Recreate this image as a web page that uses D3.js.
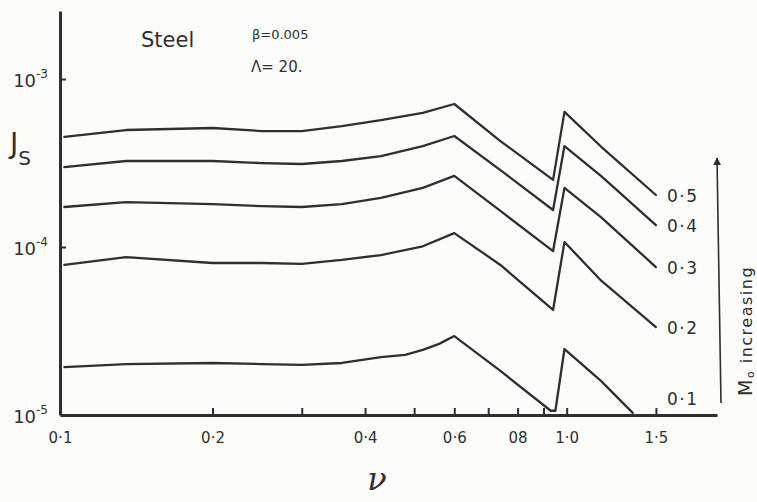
<!DOCTYPE html>
<html><head><meta charset="utf-8">
<script src="https://cdn.jsdelivr.net/npm/d3@7"></script>
<style>
html,body{margin:0;padding:0;background:#fcfcfa;}
svg{display:block;}
text{font-family:"DejaVu Sans",sans-serif;fill:#2f2f2f;}
</style></head><body>
<svg id="chart" width="757" height="502"></svg>
<script>
// ---- data ----
const nuGrid = [0.102,0.135,0.2,0.25,0.3,0.36,0.43,0.52,0.6,0.74,0.94,0.99,1.17,1.5];
const js05 = [4.52e-4,4.97e-4,5.11e-4,4.90e-4,4.90e-4,5.25e-4,5.70e-4,6.28e-4,7.10e-4,4.27e-4,2.51e-4,6.37e-4,3.95e-4,2.04e-4];
const js04 = [2.99e-4,3.25e-4,3.25e-4,3.16e-4,3.12e-4,3.25e-4,3.48e-4,3.99e-4,4.58e-4,2.87e-4,1.66e-4,3.99e-4,2.64e-4,1.35e-4];
const js03 = [1.73e-4,1.85e-4,1.80e-4,1.75e-4,1.73e-4,1.80e-4,1.96e-4,2.25e-4,2.65e-4,1.64e-4,9.46e-5,2.25e-4,1.50e-4,7.60e-5];
const js02 = [7.82e-5,8.71e-5,8.03e-5,8.03e-5,7.93e-5,8.38e-5,8.96e-5,1.01e-4,1.21e-4,7.82e-5,4.22e-5,1.07e-4,6.30e-5,3.34e-5];
const nuGrid01 = [0.102,0.135,0.2,0.25,0.3,0.36,0.43,0.48,0.52,0.56,0.6,0.74,0.93,0.95,0.99,1.17,1.35];
const js01 = [1.93e-5,2.01e-5,2.04e-5,2.01e-5,1.99e-5,2.04e-5,2.21e-5,2.28e-5,2.44e-5,2.65e-5,2.95e-5,1.83e-5,1.06e-5,1.06e-5,2.47e-5,1.59e-5,1.03e-5];
const machLabels = ["0·5","0·4","0·3","0·2","0·1"];
const xTickValues = [0.1,0.2,0.3,0.4,0.5,0.6,0.7,0.8,0.9,1.0,1.5];
const xTickLabels = ["0·1","0·2","","0·4","","0·6","","08","","1·0","1·5"];
const yTickValues = [1e-3,1e-4,1e-5];
const yTickExponents = ["-3","-4","-5"];

const ink = "#2f2f2f";
const font = '"DejaVu Sans",sans-serif';
const svg = d3.select("#chart");

const x = d3.scaleLog().domain([0.1, 1.98]).range([60, 717]);
const y = d3.scaleLog().domain([1e-5, 2.54e-3]).range([415, 11]);

const series = [
  {nu: nuGrid, js: js05},
  {nu: nuGrid, js: js04},
  {nu: nuGrid, js: js03},
  {nu: nuGrid, js: js02},
  {nu: nuGrid01, js: js01}
];

// ---- axes ----
const xAxis = d3.axisBottom(x).tickValues(xTickValues)
  .tickSizeInner(-7).tickSizeOuter(0).tickPadding(17)
  .tickFormat((d,i) => xTickLabels[i]);
const gx = svg.append("g").attr("transform", `translate(0,${y.range()[0]})`).call(xAxis)
  .attr("font-size", null).attr("font-family", null);
gx.select(".domain").attr("stroke", ink).attr("stroke-width", 3);
gx.selectAll(".tick line").attr("stroke", ink).attr("stroke-width", 2);
gx.selectAll(".tick").filter(d => d === 0.1).select("line").remove();
gx.selectAll(".tick text").style("font-size", "15px").style("font-family", font).attr("fill", ink);

const yAxis = d3.axisLeft(y).tickValues(yTickValues)
  .tickSizeInner(-6).tickSizeOuter(0).tickPadding(14)
  .tickFormat(() => "");
const gy = svg.append("g").attr("transform", `translate(${x.range()[0]},0)`).call(yAxis)
  .attr("font-size", null).attr("font-family", null);
gy.select(".domain").attr("stroke", ink).attr("stroke-width", 3);
gy.selectAll(".tick line").attr("stroke", ink).attr("stroke-width", 2);
gy.selectAll(".tick").filter(d => d === 1e-5).select("line").remove();
gy.selectAll(".tick text").each(function(d, i) {
  const t = d3.select(this).style("font-size", "18px").style("font-family", font)
    .attr("fill", ink).attr("dy", "0.42em").attr("x", -12);
  t.text(null);
  t.append("tspan").text("10");
  t.append("tspan").style("font-size", "12px").attr("dy", "-0.75em").text(yTickExponents[i]);
});

// ---- curves ----
const line = d3.line().x(d => x(d[0])).y(d => y(d[1])).curve(d3.curveLinear);
svg.append("g").selectAll("path").data(series).join("path")
  .attr("d", s => line(s.nu.map((n, i) => [n, s.js[i]])))
  .attr("fill", "none").attr("stroke", ink).attr("stroke-width", 2.3)
  .attr("stroke-linejoin", "round").attr("stroke-linecap", "round");

// ---- curve labels ----
svg.append("g").selectAll("text").data(series).join("text")
  .attr("x", x(1.5) + 11)
  .attr("y", (s, i) => i === 4 ? y.range()[0] - 10 : y(s.js[s.js.length - 1]) + 7)
  .style("font-size", "17px").attr("letter-spacing", 1.5)
  .text((s, i) => machLabels[i]);

// ---- arrow & "Mo increasing" ----
const ax = x.range()[1] + 1;
svg.append("defs").append("marker").attr("id", "arr")
  .attr("viewBox", "0 0 10 10").attr("refX", 9).attr("refY", 5)
  .attr("markerWidth", 5).attr("markerHeight", 7).attr("orient", "auto")
  .append("path").attr("d", "M0,0 L10,5 L0,10 Z").attr("fill", ink);
svg.append("line").attr("x1", ax + 3).attr("y1", 403).attr("x2", ax - 1).attr("y2", 158)
  .attr("stroke", ink).attr("stroke-width", 1.6).attr("marker-end", "url(#arr)");
const mt = svg.append("text").attr("transform", "translate(752,396) rotate(-90)")
  .style("font-size", "16px").attr("letter-spacing", 1.5);
mt.append("tspan").style("font-size", "19px").text("M");
mt.append("tspan").style("font-size", "11px").attr("dy", 2).text("o");
mt.append("tspan").attr("dy", -2).text(" increasing");

// ---- annotations ----
svg.append("text").attr("x", 141).attr("y", 47).style("font-size", "21px").text("Steel");
svg.append("text").attr("x", 252).attr("y", 39).style("font-size", "13px").text("β=0.005");
svg.append("text").attr("x", 251).attr("y", 72).style("font-size", "15px").text("Λ= 20.");

const jt = svg.append("text").attr("x", 10).attr("y", 153).style("font-size", "28px");
jt.append("tspan").text("J");
jt.append("tspan").style("font-size", "20px").attr("dy", 12).text("S");

svg.append("text").attr("x", 377).attr("y", 490).attr("text-anchor", "middle")
  .style("font-size", "32px").attr("font-style", "italic").style("font-family", '"DejaVu Serif",serif')
  .text("ν");
</script>
</body></html>
